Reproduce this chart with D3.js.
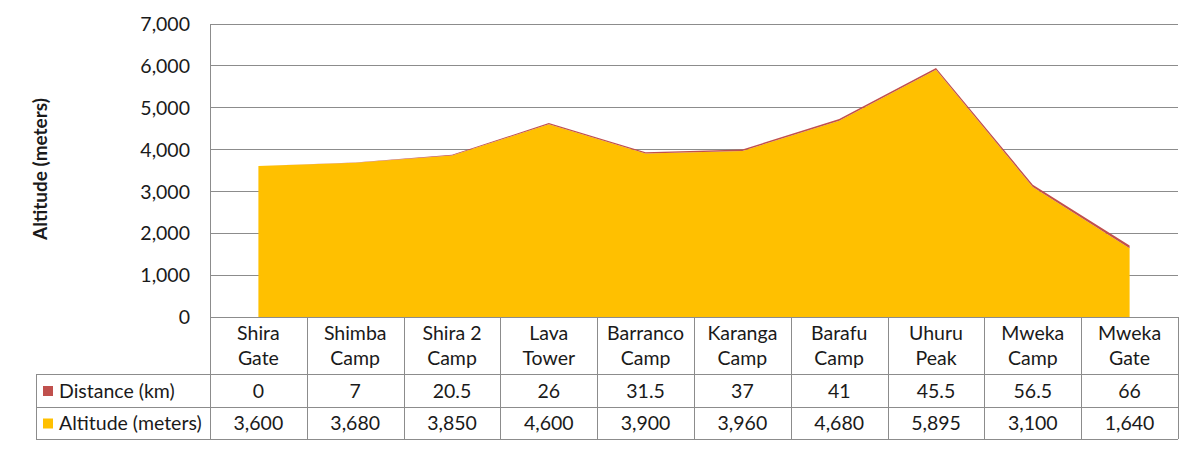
<!DOCTYPE html>
<html>
<head>
<meta charset="utf-8">
<script src="https://cdnjs.cloudflare.com/ajax/libs/d3/7.8.5/d3.min.js"></script>
<style>
  body { margin: 0; background: #fff; }
  text { font-family: Lato, "Open Sans", sans-serif; fill: #1a1a1a; }
</style>
</head>
<body>
<div id="chart"></div>
<script>
// Data
var campNames = [
  ['Shira', 'Gate'], ['Shimba', 'Camp'], ['Shira 2', 'Camp'], ['Lava', 'Tower'],
  ['Barranco', 'Camp'], ['Karanga', 'Camp'], ['Barafu', 'Camp'], ['Uhuru', 'Peak'],
  ['Mweka', 'Camp'], ['Mweka', 'Gate']
]
var distanceKm = [0, 7, 20.5, 26, 31.5, 37, 41, 45.5, 56.5, 66]
var altitudeM = [3600, 3680, 3850, 4600, 3900, 3960, 4680, 5895, 3100, 1640]
var yTicks = [0, 1000, 2000, 3000, 4000, 5000, 6000, 7000]
var seriesNames = ['Distance (km)', 'Altitude (meters)']

var width = 1202
var height = 449
var plotLeft = 210, plotRight = 1178
var plotTop = 23.5, plotBottom = 317
var rowH = [317, 374, 407, 439]
var tableLeft = 36
var gridColor = '#8c8c8c'
var colDistance = '#C0504D'
var colAltitude = '#FFC000'
var fs = '19.5px'

var rows = campNames.map(function (c, i) {
  return { key: i, altitude: altitudeM[i], distance: distanceKm[i] }
})

var svg = d3.select('#chart').append('svg')
  .attr('width', width)
  .attr('height', height)

var x = d3.scaleBand()
  .domain(d3.range(campNames.length))
  .range([plotLeft, plotRight])
  .padding(0)

var y = d3.scaleLinear()
  .domain([0, 7000])
  .range([plotBottom, plotTop])

// gridlines + y labels
var yAxis = svg.append('g')
  .attr('transform', 'translate(' + plotLeft + ',0)')
  .call(d3.axisLeft(y).tickValues(yTicks).tickFormat(d3.format(',')).tickSize(0).tickPadding(20))
yAxis.select('.domain').remove()
yAxis.selectAll('text').style('font-size', fs).attr('dy', '0.35em')

svg.append('g').selectAll('line')
  .data(yTicks)
  .enter().append('line')
  .attr('x1', plotLeft).attr('x2', plotRight)
  .attr('y1', function (d) { return Math.round(y(d)) + 0.5 })
  .attr('y2', function (d) { return Math.round(y(d)) + 0.5 })
  .attr('stroke', gridColor)

// stacked area: altitude below, distance on top
var stack = d3.stack().keys(['altitude', 'distance'])
var layers = stack(rows)
var area = d3.area()
  .x(function (d, i) { return x(i) + x.bandwidth() / 2 })
  .y0(function (d) { return y(d[0]) })
  .y1(function (d) { return y(d[1]) })

svg.append('g').selectAll('path')
  .data(layers)
  .enter().append('path')
  .attr('d', area)
  .attr('fill', function (d) { return d.key == 'altitude' ? colAltitude : colDistance })

// table lines
var tbl = svg.append('g').attr('stroke', gridColor).attr('shape-rendering', 'crispEdges')
tbl.append('line').attr('x1', plotLeft + 0.5).attr('x2', plotLeft + 0.5).attr('y1', plotTop).attr('y2', rowH[3])
tbl.append('line').attr('x1', tableLeft + 0.5).attr('x2', tableLeft + 0.5).attr('y1', rowH[1]).attr('y2', rowH[3])
tbl.selectAll('.vsep')
  .data(d3.range(1, campNames.length + 1))
  .enter().append('line')
  .attr('x1', function (i) { return Math.round(plotLeft + i * x.bandwidth()) + 0.5 })
  .attr('x2', function (i) { return Math.round(plotLeft + i * x.bandwidth()) + 0.5 })
  .attr('y1', rowH[0]).attr('y2', rowH[3])
tbl.selectAll('.hsep')
  .data([rowH[1], rowH[2], rowH[3]])
  .enter().append('line')
  .attr('x1', tableLeft).attr('x2', plotRight)
  .attr('y1', function (d) { return d + 0.5 })
  .attr('y2', function (d) { return d + 0.5 })

// category labels
var cats = svg.append('g').selectAll('text')
  .data(campNames)
  .enter().append('text')
  .attr('text-anchor', 'middle')
  .style('font-size', fs)
  .attr('x', function (d, i) { return x(i) + x.bandwidth() / 2 })
cats.append('tspan').attr('y', 340).text(function (d) { return d[0] })
cats.append('tspan').attr('y', 365)
  .attr('x', function (d, i) { return x(i) + x.bandwidth() / 2 })
  .text(function (d) { return d[1] })

// value rows
var tableRows = [distanceKm, altitudeM.map(d3.format(','))]
tableRows.forEach(function (vals, r) {
  var cy = (rowH[r + 1] + rowH[r + 2]) / 2 + 0.5
  svg.append('g').selectAll('text')
    .data(vals)
    .enter().append('text')
    .attr('text-anchor', 'middle')
    .attr('dy', '0.35em')
    .style('font-size', fs)
    .attr('x', function (d, i) { return x(i) + x.bandwidth() / 2 })
    .attr('y', cy)
    .text(function (d) { return d })

  svg.append('rect')
    .attr('x', 43).attr('y', cy - 5)
    .attr('width', 10).attr('height', 10)
    .attr('fill', r == 0 ? colDistance : colAltitude)
  svg.append('text')
    .attr('x', 59).attr('y', cy)
    .attr('dy', '0.35em')
    .style('font-size', fs)
    .text(seriesNames[r])
})

// axis title
svg.append('text')
  .attr('transform', 'translate(47,' + 169 + ') rotate(-90)')
  .attr('text-anchor', 'middle')
  .style('font-size', '19px')
  .style('font-weight', 'bold')
  .text('Altitude (meters)')
</script>
</body>
</html>
